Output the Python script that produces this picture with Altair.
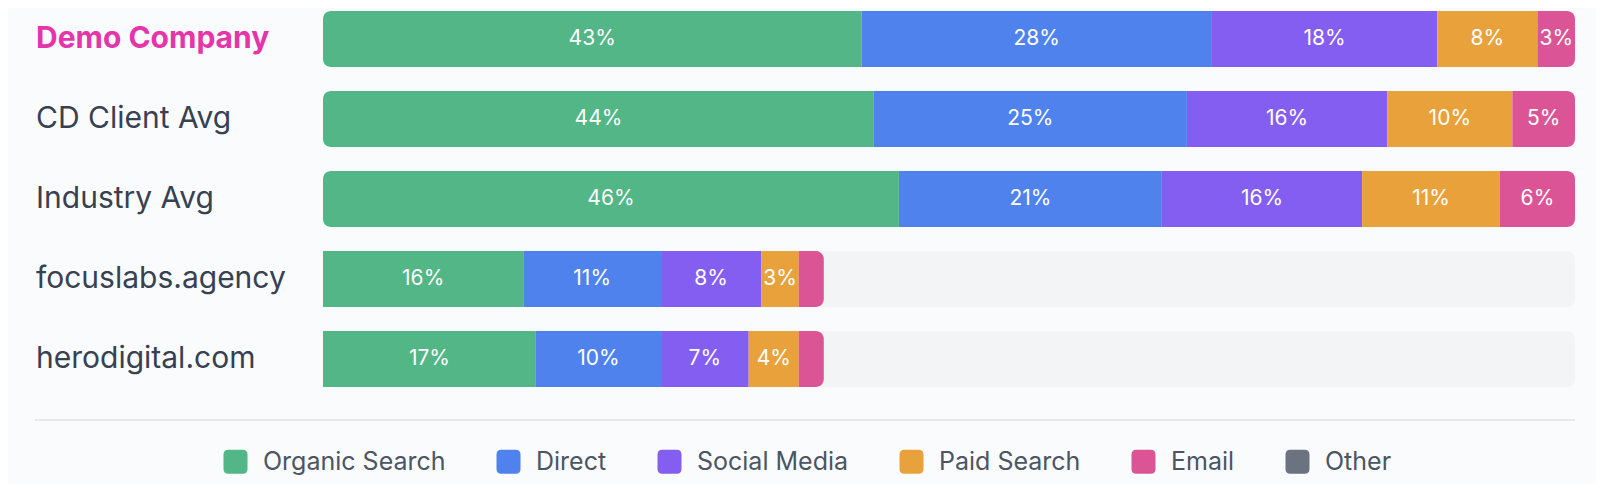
import altair as alt
import pandas as pd

# ---- data ----
rows = ["Demo Company", "CD Client Avg", "Industry Avg", "focuslabs.agency", "herodigital.com"]
channels = ["Organic Search", "Direct", "Social Media", "Paid Search", "Email", "Other"]
colors = ["#53b686", "#4f82ec", "#845ef0", "#e9a23b", "#db5596", "#6b7280"]

organic = [43, 44, 46, 16, 17]
direct = [28, 25, 21, 11, 10]
social = [18, 16, 16, 8, 7]
paid = [8, 10, 11, 3, 4]
email = [3, 5, 6, 2, 2]

highlight = "Demo Company"

# ---- build tables ----
series = [organic, direct, social, paid, email]
recs = []
for i, r in enumerate(rows):
    vals = [s[i] for s in series]
    total = sum(vals)
    start = 0
    for j, v in enumerate(vals):
        if j == 0 and total >= 99:
            kind = "first"
        elif j == len(vals) - 1:
            kind = "last"
        else:
            kind = "mid"
        recs.append(dict(row=r, channel=channels[j], value=v, start=start,
                         end=start + v, mid=start + v / 2, kind=kind,
                         label=f"{v}%"))
        start += v
seg = pd.DataFrame(recs)
track = pd.DataFrame(dict(row=rows, start=[0] * len(rows), end=[100] * len(rows)))
lab = pd.DataFrame(dict(row=rows))

FONT = "Inter"
xs = alt.Scale(domain=[0, 100], range=[315, 1567], nice=False, zero=False)
ys = alt.Scale(domain=rows, range=[3, 379], paddingInner=0.3, paddingOuter=0)
X = alt.X("start:Q", scale=xs, axis=None)
X2 = alt.X2("end:Q")
Y = alt.Y("row:N", scale=ys, axis=None, sort=rows)

rsym = ("M -0.6 -1 L 0.6 -1 Q 1 -1 1 -0.6 L 1 0.6 Q 1 1 0.6 1 L -0.6 1 "
        "Q -1 1 -1 0.6 L -1 -0.6 Q -1 -1 -0.6 -1 Z")
C = alt.Color("channel:N", scale=alt.Scale(domain=channels, range=colors),
              legend=alt.Legend(title=None, orient="none", direction="horizontal",
                                legendX=215, legendY=441, symbolType=rsym,
                                symbolSize=576, symbolStrokeWidth=0, symbolOpacity=1,
                                labelFontSize=25, labelFont=FONT, labelColor="#4b5563",
                                labelOffset=15, columnPadding=50, padding=0,
                                labelLimit=400))

base = alt.Chart(seg)

track_l = alt.Chart(track).mark_bar(color="#f3f4f6", cornerRadius=8).encode(x=X, x2=X2, y=Y)
mid_l = base.mark_bar().encode(x=X, x2=X2, y=Y, color=C).transform_filter("datum.kind == 'mid'")
first_l = base.mark_bar(cornerRadiusTopLeft=8, cornerRadiusBottomLeft=8).encode(
    x=X, x2=X2, y=Y, color=C).transform_filter("datum.kind == 'first'")
last_l = base.mark_bar(cornerRadiusTopRight=8, cornerRadiusBottomRight=8).encode(
    x=X, x2=X2, y=Y, color=C).transform_filter("datum.kind == 'last'")

seg_txt = base.mark_text(color="white", font=FONT, fontSize=21, baseline="middle",
                         align="center").encode(
    x=alt.X("mid:Q", scale=xs, axis=None), y=Y, text="label:N"
).transform_filter("datum.value >= 3")

row_txt = alt.Chart(lab).mark_text(align="left", baseline="middle", font=FONT,
                                   fontSize=30, color="#374151").encode(
    x=alt.value(28), y=Y, text="row:N"
).transform_filter(f"datum.row != '{highlight}'")
hi_txt = alt.Chart(lab).mark_text(align="left", baseline="middle", font=FONT,
                                  fontSize=30, fontWeight="bold", color="#e535ab").encode(
    x=alt.value(28), y=Y, text="row:N"
).transform_filter(f"datum.row == '{highlight}'")

sep = alt.Chart(lab).mark_rule(color="#e5e7eb", strokeWidth=2).encode(
    x=alt.value(27), x2=alt.value(1567), y=alt.value(412))

chart = alt.layer(track_l, mid_l, first_l, last_l, seg_txt, row_txt, hi_txt, sep).properties(
    width=1588, height=476, autosize=alt.AutoSizeParams(type="none"), padding=0,
    background="#fafbfc"
).configure_view(stroke=None)

chart.save("out.html", embed_options={"renderer": "svg", "actions": False})
